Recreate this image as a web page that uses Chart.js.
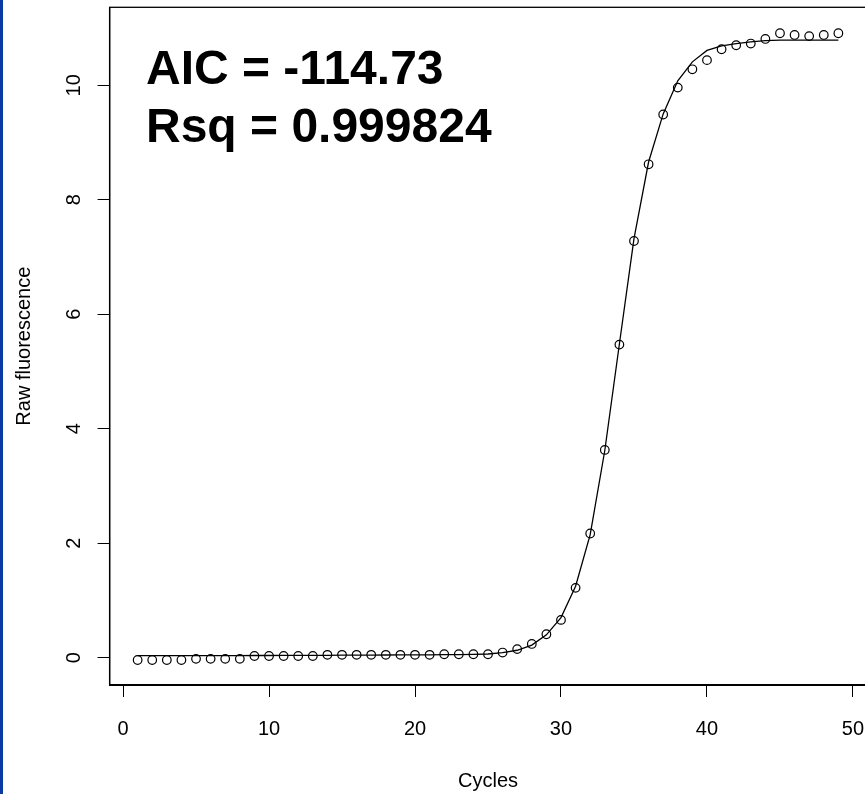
<!DOCTYPE html>
<html>
<head>
<meta charset="utf-8">
<script src="https://cdn.jsdelivr.net/npm/chart.js@4.4.1/dist/chart.umd.min.js"></script>
<style>
  html, body { margin: 0; padding: 0; background: #fff; overflow: hidden; }
  #wrap { position: relative; width: 865px; height: 794px; overflow: hidden; }
  #stripe { position: absolute; left: 0; top: 0; width: 3px; height: 794px; background: #0a3aa2; z-index: 2; }
  #myChart { position: absolute; left: 0; top: 0; }
</style>
</head>
<body>
<div id="wrap">
  <div id="stripe"></div>
  <canvas id="myChart" width="868" height="794"></canvas>
</div>
<script>
const cycles = [1, 2, 3, 4, 5, 6, 7, 8, 9, 10, 11, 12, 13, 14, 15, 16, 17, 18, 19, 20,
  21, 22, 23, 24, 25, 26, 27, 28, 29, 30, 31, 32, 33, 34, 35, 36, 37, 38, 39, 40,
  41, 42, 43, 44, 45, 46, 47, 48, 49];

// raw fluorescence readings (open circles)
const observed = [-0.04, -0.04, -0.04, -0.04, -0.02, -0.02, -0.02, -0.02, 0.03, 0.03,
  0.03, 0.03, 0.03, 0.05, 0.05, 0.05, 0.05, 0.05, 0.05, 0.05,
  0.05, 0.06, 0.06, 0.06, 0.06, 0.09, 0.15, 0.24, 0.41, 0.66,
  1.22, 2.17, 3.63, 5.47, 7.28, 8.62, 9.49, 9.96, 10.28, 10.44,
  10.63, 10.70, 10.73, 10.81, 10.91, 10.88, 10.86, 10.88, 10.91];

// fitted model values (solid line)
const fitted = [0.035, 0.035, 0.035, 0.035, 0.035, 0.035, 0.035, 0.035, 0.038, 0.038,
  0.04, 0.04, 0.042, 0.042, 0.044, 0.045, 0.046, 0.047, 0.048, 0.05,
  0.05, 0.052, 0.055, 0.058, 0.065, 0.09, 0.13, 0.22, 0.40, 0.70,
  1.25, 2.15, 3.62, 5.48, 7.32, 8.66, 9.50, 10.08, 10.41, 10.61,
  10.69, 10.73, 10.76, 10.78, 10.79, 10.79, 10.79, 10.79, 10.79];

const xTicks = [0, 10, 20, 30, 40, 50];
const yTicks = [0, 2, 4, 6, 8, 10];

const statLines = ['AIC = -114.73', 'Rsq = 0.999824'];

const FONT = 'Arial, "Liberation Sans", sans-serif';

const boxAndStats = {
  id: 'boxAndStats',
  afterDraw(chart) {
    const { ctx, chartArea } = chart;
    ctx.save();
    ctx.strokeStyle = '#000';
    ctx.lineWidth = 1.3;
    ctx.strokeRect(chartArea.left, chartArea.top,
      chartArea.right - chartArea.left, chartArea.bottom - chartArea.top);

    ctx.fillStyle = '#000';
    ctx.font = 'bold 48px ' + FONT;
    ctx.textAlign = 'left';
    ctx.textBaseline = 'alphabetic';
    ctx.fillText(statLines[0], 146, 84);
    ctx.fillText(statLines[1], 146, 142);
    ctx.restore();
  }
};

const ctx = document.getElementById('myChart');

new Chart(ctx, {
  type: 'scatter',
  data: {
    datasets: [
      {
        label: 'observed',
        data: cycles.map((c, i) => ({ x: c, y: observed[i] })),
        showLine: false,
        pointStyle: 'circle',
        pointRadius: 4.3,
        pointBorderWidth: 1.2,
        pointBorderColor: '#000',
        pointBackgroundColor: 'rgba(0,0,0,0)'
      },
      {
        label: 'fit',
        data: cycles.map((c, i) => ({ x: c, y: fitted[i] })),
        showLine: true,
        borderColor: '#000',
        borderWidth: 1.3,
        tension: 0,
        pointRadius: 0
      }
    ]
  },
  options: {
    responsive: false,
    animation: false,
    events: [],
    layout: {
      autoPadding: false,
      padding: { top: 7.3, right: 1.6, left: 0, bottom: 0 }
    },
    plugins: {
      legend: { display: false },
      tooltip: { enabled: false }
    },
    scales: {
      x: {
        type: 'linear',
        position: 'bottom',
        min: -0.92,
        max: 50.92,
        afterBuildTicks(scale) {
          scale.ticks = xTicks.map(v => ({ value: v }));
        },
        afterFit(scale) {
          scale.height = 109;
          scale.paddingLeft = 0;
          scale.paddingRight = 0;
        },
        grid: {
          drawOnChartArea: false,
          drawTicks: true,
          tickLength: 12,
          color: '#000',
          lineWidth: 1
        },
        border: { display: true, color: '#000', width: 2 },
        ticks: {
          autoSkip: false,
          maxRotation: 0,
          padding: 20,
          color: '#000',
          font: { family: FONT, size: 20 }
        },
        title: {
          display: true,
          text: 'Cycles',
          color: '#000',
          font: { family: FONT, size: 20 },
          padding: { top: 0, bottom: 1 }
        }
      },
      y: {
        type: 'linear',
        position: 'left',
        min: -0.477,
        max: 11.363,
        afterBuildTicks(scale) {
          scale.ticks = yTicks.map(v => ({ value: v }));
        },
        afterFit(scale) {
          scale.width = 109.6;
          scale.paddingTop = 0;
          scale.paddingBottom = 0;
        },
        grid: {
          drawOnChartArea: false,
          drawTicks: true,
          tickLength: 12,
          color: '#000',
          lineWidth: 1
        },
        border: { display: true, color: '#000', width: 1.3 },
        ticks: {
          autoSkip: false,
          minRotation: 90,
          maxRotation: 90,
          crossAlign: 'center',
          padding: 12,
          color: '#000',
          font: { family: FONT, size: 20 }
        },
        title: {
          display: true,
          text: 'Raw fluorescence',
          color: '#000',
          font: { family: FONT, size: 20 },
          padding: { top: 12, bottom: 0 }
        }
      }
    }
  },
  plugins: [boxAndStats]
});
</script>
</body>
</html>
